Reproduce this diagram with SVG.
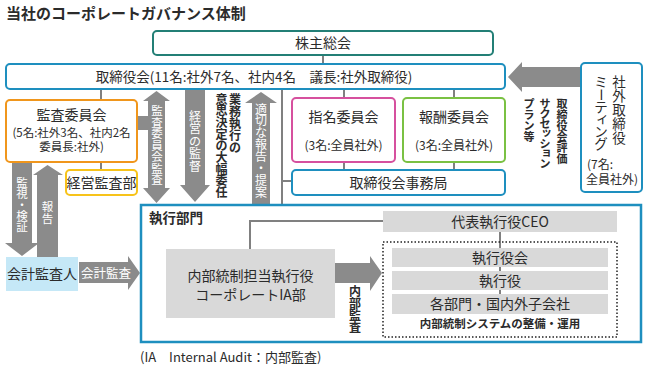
<svg xmlns="http://www.w3.org/2000/svg" width="648" height="367" viewBox="0 0 648 367">
<style>
text{font-family:"Noto Sans CJK JP","Noto Sans",sans-serif;fill:#2b2b2b}
.t14{font-size:14px;text-anchor:middle}
.t12{font-size:12px;text-anchor:middle}
.box{fill:#fff;stroke-width:2}
.gbox{fill:#d9d9d9}
.arr{fill:#8b8b8b}
.ln{stroke:#808080;stroke-width:2;fill:none}
.vw{fill:#fff;font-size:12px;text-anchor:middle}
.vb{font-size:12px;font-weight:bold;text-anchor:middle}
</style>
<rect width="648" height="367" fill="#fff"/>
<text x="6" y="19" style="font-size:15px;font-weight:bold">当社のコーポレートガバナンス体制</text>

<g id="connectors">
<line class="ln" x1="323" y1="55" x2="323" y2="64"/>
<line class="ln" x1="101" y1="89" x2="101" y2="170"/>
<line class="ln" x1="344" y1="89" x2="344" y2="170"/>
<line class="ln" x1="454" y1="89" x2="454" y2="170"/>
<line class="ln" x1="282" y1="89" x2="282" y2="204"/>
<line class="ln" x1="282" y1="181" x2="292" y2="181"/>
<polyline class="ln" points="250,249 250,221 383,221"/>
<line class="ln" x1="500" y1="232" x2="500" y2="294"/>
<rect class="arr" x="137" y="116" width="12" height="14"/>
<polygon class="arr" points="12,162 32,162 32,243 39,243 22,256 5,243 12,243"/>
<polygon class="arr" points="37,257 58,257 58,175 63,175 47.5,165 33,175 37,175"/>
<polygon class="arr" points="156.5,91 170,101 165,101 165,188 170,188 156.5,203 143,188 148,188 148,101 143,101"/>
<polygon class="arr" points="185,89 205,89 205,185 210,185 195,202 180,185 185,185"/>
<polygon class="arr" points="252,204 270,204 270,103 277,103 261,92 245,103 252,103"/>
<polygon class="arr" points="581,67 522,67 522,62 508,77 522,92 522,87 581,87"/>
<polygon class="arr" points="79,262 128,262 128,256 140,273 128,290 128,283 79,283"/>
<polygon class="arr" points="335,263 370,263 370,256 382,273 370,291 370,283 335,283"/>
<text class="vw" style="font-size:11.5px"><tspan x="157" y="115">監</tspan><tspan x="157" y="126.5">査</tspan><tspan x="157" y="138">委</tspan><tspan x="157" y="149.5">員</tspan><tspan x="157" y="161">会</tspan><tspan x="157" y="172.5">監</tspan><tspan x="157" y="184">査</tspan></text>
<text class="vw"><tspan x="195" y="120.5">経</tspan><tspan x="195" y="133">営</tspan><tspan x="195" y="145.5">の</tspan><tspan x="195" y="158">監</tspan><tspan x="195" y="170.5">督</tspan></text>
<text class="vb"><tspan x="235" y="103.5">業</tspan><tspan x="235" y="115.5">務</tspan><tspan x="235" y="127.5">執</tspan><tspan x="235" y="139.5">行</tspan><tspan x="235" y="151.5">の</tspan></text>
<text class="vb"><tspan x="221.5" y="103.5">意</tspan><tspan x="221.5" y="115.2">思</tspan><tspan x="221.5" y="126.9">決</tspan><tspan x="221.5" y="138.6">定</tspan><tspan x="221.5" y="150.3">の</tspan><tspan x="221.5" y="162">大</tspan><tspan x="221.5" y="173.7">幅</tspan><tspan x="221.5" y="185.4">委</tspan><tspan x="221.5" y="197.1">任</tspan></text>
<text class="vw"><tspan x="261" y="113.5">適</tspan><tspan x="261" y="125.4">切</tspan><tspan x="261" y="137.3">な</tspan><tspan x="261" y="149.2">報</tspan><tspan x="261" y="161.1">告</tspan><tspan x="261" y="173">・</tspan><tspan x="261" y="184.9">提</tspan><tspan x="261" y="196.8">案</tspan></text>
<text class="vw" style="font-size:11.5px"><tspan x="22" y="187">監</tspan><tspan x="22" y="198">視</tspan><tspan x="22" y="209">・</tspan><tspan x="22" y="220">検</tspan><tspan x="22" y="231">証</tspan></text>
<text class="vw" style="font-size:11.5px"><tspan x="47.5" y="211">報</tspan><tspan x="47.5" y="222.5">告</tspan></text>
<text x="106" y="278" style="font-size:12.5px;fill:#fff;text-anchor:middle">会計監査</text>
<text class="vb"><tspan x="355" y="295.5">内</tspan><tspan x="355" y="307.5">部</tspan><tspan x="355" y="319.5">監</tspan><tspan x="355" y="331.5">査</tspan></text>
<text class="vb" style="font-size:11px"><tspan x="562" y="107.5">取</tspan><tspan x="562" y="118.5">締</tspan><tspan x="562" y="129.5">役</tspan><tspan x="562" y="140.5">会</tspan><tspan x="562" y="151.5">評</tspan><tspan x="562" y="162.5">価</tspan></text>
<text class="vb" style="font-size:11px"><tspan x="545" y="107.5">サ</tspan><tspan x="545" y="117.5">ク</tspan><tspan x="545" y="127.5">セ</tspan><tspan x="546.5" y="136">ッ</tspan><tspan x="545" y="147.5">シ</tspan><tspan x="546.5" y="156">ョ</tspan><tspan x="545" y="167.5">ン</tspan></text>
<text class="vb" style="font-size:11px"><tspan x="529" y="107.5">プ</tspan><tspan x="529" y="118.5">ラ</tspan><tspan x="529" y="129.5">ン</tspan><tspan x="529" y="140.5">等</tspan></text>
</g>

<g id="shareholders">
<rect class="box" x="153" y="31" width="340" height="24" rx="4" stroke="#237f76"/>
<text class="t14" x="323" y="48">株主総会</text>
</g>
<g id="board">
<rect class="box" x="6" y="64" width="499" height="25" rx="4" stroke="#1e8fbf"/>
<text class="t14" x="254" y="81.5" style="font-size:13.5px">取締役会(11名:社外7名、社内4名　議長:社外取締役)</text>
</g>
<g id="audit-committee">
<rect class="box" x="6" y="100" width="131" height="62" rx="4" stroke="#f0961c"/>
<text class="t14" x="71.5" y="120">監査委員会</text>
<text class="t12" x="71.5" y="136.5" style="font-size:11.5px">(5名:社外3名、社内2名</text>
<text class="t12" x="71.5" y="150.5" style="font-size:11.5px">委員長:社外)</text>
</g>
<g id="mgmt-audit">
<rect class="box" x="66" y="170" width="71" height="25" rx="4" stroke="#f7c31a"/>
<text class="t14" x="101.5" y="187.5">経営監査部</text>
</g>
<g id="nomination">
<rect class="box" x="292" y="98" width="103" height="64" rx="4" stroke="#d6509e"/>
<text class="t14" x="343.5" y="122">指名委員会</text>
<text class="t12" x="343.5" y="150">(3名:全員社外)</text>
</g>
<g id="compensation">
<rect class="box" x="403" y="98" width="102" height="64" rx="4" stroke="#7ac143"/>
<text class="t14" x="454" y="122">報酬委員会</text>
<text class="t12" x="454" y="150">(3名:全員社外)</text>
</g>
<g id="secretariat">
<rect class="box" x="292" y="170" width="213" height="25" rx="4" stroke="#1e8fbf"/>
<text class="t14" x="398.5" y="187.5">取締役会事務局</text>
</g>
<g id="outside-directors">
<rect class="box" x="581" y="63" width="61" height="129" rx="4" stroke="#1e8fbf"/>
<text style="font-size:13.5px;text-anchor:middle"><tspan x="619" y="86.5">社</tspan><tspan x="619" y="100.5">外</tspan><tspan x="619" y="114.5">取</tspan><tspan x="619" y="128.5">締</tspan><tspan x="619" y="142.5">役</tspan></text>
<text style="font-size:13.5px;text-anchor:middle"><tspan x="601" y="86.5">ミ</tspan><tspan x="602.6" y="88" rotate="90">ー</tspan><tspan x="601" y="111.5">テ</tspan><tspan x="602.5" y="122.5">ィ</tspan><tspan x="601" y="136.5">ン</tspan><tspan x="601" y="149">グ</tspan></text>
<text x="587" y="169" style="font-size:12px">(7名:</text>
<text x="586" y="184" style="font-size:12px">全員社外)</text>
</g>
<g id="auditor">
<rect x="6" y="257" width="72" height="34" fill="#c5e8f7"/>
<text class="t14" x="42" y="279">会計監査人</text>
</g>
<g id="execution">
<rect x="141" y="205" width="500" height="137" fill="none" stroke="#1e8fbf" stroke-width="2.5"/>
<text x="149" y="223" style="font-size:13.5px;font-weight:bold">執行部門</text>
</g>
<g id="internal-control">
<rect class="gbox" x="166" y="249" width="169" height="69"/>
<text class="t14" x="250.5" y="281">内部統制担当執行役</text>
<text class="t14" x="250.5" y="300">コーポレートIA部</text>
</g>
<g id="ceo">
<rect class="gbox" x="383" y="211" width="234" height="21"/>
<text class="t14" x="500" y="226.5">代表執行役CEO</text>
</g>
<g id="internal-system">
<rect x="383" y="242" width="234" height="95" fill="none" stroke="#222" stroke-width="1.5" stroke-dasharray="1.5 2"/>
<rect class="gbox" x="392" y="248" width="216" height="19"/>
<text class="t14" x="500" y="262.5">執行役会</text>
<rect class="gbox" x="392" y="271" width="216" height="19"/>
<text class="t14" x="500" y="285.5">執行役</text>
<rect class="gbox" x="392" y="294" width="216" height="20"/>
<text class="t14" x="500" y="309">各部門・国内外子会社</text>
<text x="500" y="328" style="font-size:11.5px;font-weight:bold;text-anchor:middle">内部統制システムの整備・運用</text>
</g>
<text x="140" y="362" style="font-size:13px">(IA　Internal Audit：内部監査)</text>
</svg>
